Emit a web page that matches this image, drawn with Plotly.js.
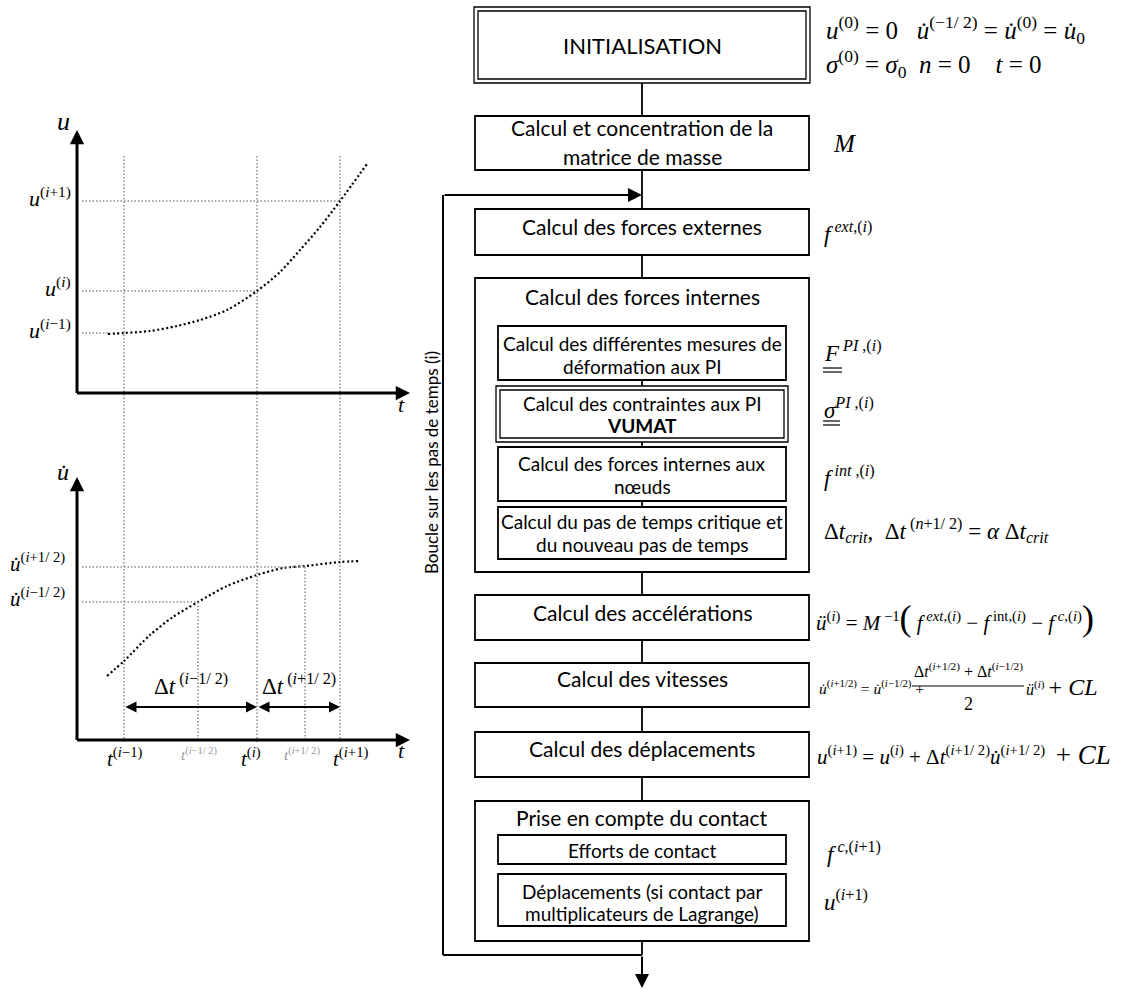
<!DOCTYPE html>
<html><head><meta charset="utf-8">
<script src="https://cdn.plot.ly/plotly-3.0.1.min.js"></script>
<style>html,body{margin:0;padding:0;background:#fff}</style>
</head><body><div id="chart" style="width:1121px;height:989px"></div>
<script>
// ================= DATA =================
// time marks (axis units of the two left graphs)
const tGrid = [47, 180, 263];            // t(i-1), t(i), t(i+1)
const tHalf = [121, 228];                // t(i-1/2), t(i+1/2)
// displacement graph
const curveUt = [31, 47, 73, 100, 123, 150, 180, 203, 223, 243, 263, 290];
const curveU  = [59, 60, 62, 67, 73, 83, 102, 121, 143, 166, 192, 229];
const uLevels = [60, 102, 192];          // u(i-1), u(i), u(i+1)
const uLevelT = [31, 180, 263];
// velocity graph
const curveVt = [30, 47, 73, 96, 121, 150, 180, 206, 228, 263, 282];
const curveV  = [64, 79, 105, 123, 138, 154, 165, 172, 174, 178, 179];
const vLevels = [138, 173];              // u̇(i-1/2), u̇(i+1/2)
// labels
const I = s => '<i>' + s + '</i>';
const ud = I('u\u0307');
const uLabels = [I('u') + '<sup>(' + I('i') + '−1)</sup>', I('u') + '<sup>(' + I('i') + ')</sup>', I('u') + '<sup>(' + I('i') + '+1)</sup>'];
const vLabels = [ud + '<sup>(' + I('i') + '−1/ 2)</sup>', ud + '<sup>(' + I('i') + '+1/ 2)</sup>'];
const tLabels = [I('t') + '<sup>(' + I('i') + '−1)</sup>', I('t') + '<sup>(' + I('i') + ')</sup>', I('t') + '<sup>(' + I('i') + '+1)</sup>'];
const tHalfLabels = [I('t') + '<sup>(' + I('i') + '−1/ 2)</sup>', I('t') + '<sup>(' + I('i') + '+1/ 2)</sup>'];
const dtLabels = ['Δ' + I('t') + '<sup> (' + I('i') + '−1/ 2)</sup>', 'Δ' + I('t') + '<sup> (' + I('i') + '+1/ 2)</sup>'];

// flowchart texts
const stepTexts = {
  init: ['INITIALISATION'],
  mass: ['Calcul et concentration de la', 'matrice de masse'],
  ext: ['Calcul des forces externes'],
  int: ['Calcul des forces internes'],
  def: ['Calcul des différentes mesures de', 'déformation aux PI'],
  vumat: ['Calcul des contraintes aux PI', '<b>VUMAT</b>'],
  nodes: ['Calcul des forces internes aux', 'nœuds'],
  dt: ['Calcul du pas de temps critique et', 'du nouveau pas de temps'],
  acc: ['Calcul des accélérations'],
  vit: ['Calcul des vitesses'],
  dep: ['Calcul des déplacements'],
  contact: ['Prise en compte du contact'],
  eff: ['Efforts de contact'],
  lag: ['Déplacements (si contact par', 'multiplicateurs de Lagrange)']
};
const loopLabel = 'Boucle sur les pas de temps (i)';
const NB = '\u00a0';
const formulas = {
  init1: I('u') + '<sup>(0)</sup> = 0' + NB + NB + NB + ud + '<sup>(−1/ 2)</sup> = ' + ud + '<sup>(0)</sup> = ' + ud + '<sub>0</sub>',
  init2: I('σ') + '<sup>(0)</sup> = ' + I('σ') + '<sub>0</sub>' + NB + NB + I('n') + ' = 0' + NB + NB + NB + NB + I('t') + ' = 0',
  mass: I('M'),
  ext: I('f') + '<sup>' + NB + I('ext') + ',(' + I('i') + ')</sup>',
  F: I('F') + '<sup>' + NB + I('PI') + ' ,(' + I('i') + ')</sup>',
  sig: I('σ') + '<sup>' + I('PI') + ' ,(' + I('i') + ')</sup>',
  int: I('f') + '<sup>' + NB + I('int') + ' ,(' + I('i') + ')</sup>',
  dt: 'Δ' + I('t') + '<sub>' + I('crit') + '</sub>,' + NB + NB + 'Δ' + I('t') + '<sup> (' + I('n') + '+1/ 2)</sup> = ' + I('α') + NB + 'Δ' + I('t') + '<sub>' + I('crit') + '</sub>',
  acc: I('ü') + '<sup>(' + I('i') + ')</sup> = ' + I('M') + '<sup> −1</sup><span style="font-size:36px">(</span>' + NB + I('f') + '<sup>' + NB + I('ext') + ',(' + I('i') + ')</sup> − ' + I('f') + '<sup>' + NB + 'int,(' + I('i') + ')</sup> − ' + I('f') + '<sup>' + NB + I('c') + ',(' + I('i') + ')</sup><span style="font-size:36px">)</span>',
  vitL: ud + '<sup>(' + I('i') + '+1/2)</sup> = ' + ud + '<sup>(' + I('i') + '−1/2)</sup> +',
  vitN: 'Δ' + I('t') + '<sup>(' + I('i') + '+1/2)</sup> + Δ' + I('t') + '<sup>(' + I('i') + '−1/2)</sup>',
  vitD: '2',
  vitR: I('ü') + '<sup>(' + I('i') + ')</sup> <span style="font-size:24px">+ ' + I('CL') + '</span>',
  dep: I('u') + '<sup>(' + I('i') + '+1)</sup> = ' + I('u') + '<sup>(' + I('i') + ')</sup> + Δ' + I('t') + '<sup>(' + I('i') + '+1/ 2)</sup>' + ud + '<sup>(' + I('i') + '+1/ 2)</sup>' + NB + NB + '<span style="font-size:27px">+ ' + I('CL') + '</span>',
  fc: I('f') + '<sup>' + NB + I('c') + ',(' + I('i') + '+1)</sup>',
  ulag: I('u') + '<sup>(' + I('i') + '+1)</sup>'
};

// ================= LAYOUT HELPERS =================
const W = 1121, H = 989;
const X = x => x / W, Y = y => 1 - y / H;
const SANS = 'Lato, "Open Sans", sans-serif';
const SERIF = '"Liberation Serif", "DejaVu Serif", serif';
const GREY = '#8a8a8a';

const shapes = [];
const annotations = [];
function rect(r, w) {
  shapes.push({type: 'rect', xref: 'paper', yref: 'paper', x0: X(r[0]), x1: X(r[2]), y0: Y(r[3]), y1: Y(r[1]),
    line: {color: '#000', width: w || 1.8}, fillcolor: 'rgba(0,0,0,0)'});
}
function seg(x0, y0, x1, y1, w) {
  shapes.push({type: 'line', xref: 'paper', yref: 'paper', x0: X(x0), x1: X(x1), y0: Y(y0), y1: Y(y1),
    line: {color: '#000', width: w || 1.8}});
}
function txt(x, y, text, size, opts) {
  annotations.push(Object.assign({xref: 'paper', yref: 'paper', x: X(x), y: Y(y), text: text, showarrow: false,
    xanchor: 'center', yanchor: 'middle', font: {family: SANS, size: size, color: '#000'}}, opts || {}));
}
function arrowPx(xh, yh, xt, yt, w, size) {
  annotations.push({xref: 'paper', yref: 'paper', x: X(xh), y: Y(yh), ax: xt - xh, ay: yt - yh,
    axref: 'pixel', ayref: 'pixel', text: '', showarrow: true, arrowhead: 2, arrowwidth: w, arrowsize: size,
    arrowcolor: '#000', standoff: 0});
}

// ================= FLOWCHART =================
const CX = 642;
const boxes = [
  {k: 'init', r: [475, 7, 809, 83], dbl: true, ty: [45], fs: 22},
  {k: 'mass', r: [475, 116, 809, 170], ty: [128, 156], fs: 21},
  {k: 'ext', r: [475, 209, 809, 255], ty: [227], fs: 21},
  {k: 'int', r: [475, 278, 809, 572], ty: [296], fs: 21},
  {k: 'def', r: [498, 326, 786, 380], ty: [343, 366], fs: 19},
  {k: 'vumat', r: [497, 386, 787, 442], dbl: true, ty: [403, 425], fs: 19},
  {k: 'nodes', r: [498, 447, 786, 501], ty: [463, 486], fs: 19},
  {k: 'dt', r: [498, 507, 786, 559], ty: [521, 544], fs: 19},
  {k: 'acc', r: [475, 595, 809, 640], ty: [612], fs: 21},
  {k: 'vit', r: [475, 663, 809, 707], ty: [678], fs: 21},
  {k: 'dep', r: [475, 732, 809, 777], ty: [748], fs: 21},
  {k: 'contact', r: [475, 801, 809, 941], ty: [817], fs: 21},
  {k: 'eff', r: [498, 835, 786, 864], ty: [850], fs: 19},
  {k: 'lag', r: [498, 874, 786, 926], ty: [891, 913], fs: 19}
];
boxes.forEach(b => {
  if (b.dbl) {
    rect([b.r[0] - 1, b.r[1], b.r[2] + 1, b.r[3]], 1.3);
    rect([b.r[0] + 3, b.r[1] + 4, b.r[2] - 3, b.r[3] - 4], 1.3);
  } else rect(b.r, 1.8);
  stepTexts[b.k].forEach((t, i) => txt(CX, b.ty[i], t, b.fs));
});
[[83, 116], [170, 209], [255, 278], [380, 386], [442, 447], [501, 507], [572, 595], [640, 663], [707, 732], [777, 801], [941, 955]]
  .forEach(c => seg(CX, c[0], CX, c[1], 1.8));
// loop
seg(CX, 955, 443, 955, 2);
seg(443, 955, 443, 195, 2);
arrowPx(CX, 195, 443, 195, 2, 1.4);
arrowPx(CX, 988, CX, 955, 2, 1.4);
txt(431, 463, loopLabel, 17, {textangle: -90});

// formulas (right column)
const fs = {family: SERIF, size: 22, color: '#000'};
function ftxt(x, y, text, size, anchor) {
  annotations.push({xref: 'paper', yref: 'paper', x: X(x), y: Y(y), text: text, showarrow: false,
    xanchor: anchor || 'left', yanchor: 'middle', font: Object.assign({}, fs, {size: size})});
}
ftxt(824, 30, formulas.init1, 25);
ftxt(824, 64, formulas.init2, 25);
ftxt(831, 143, formulas.mass, 25);
ftxt(822, 232, formulas.ext, 23);
ftxt(822, 352, formulas.F, 23);
ftxt(822, 408, formulas.sig, 23);
ftxt(822, 476, formulas.int, 23);
ftxt(822, 530, formulas.dt, 23);
ftxt(814, 618, formulas.acc, 21);
ftxt(817, 687, formulas.vitL, 15.5);
ftxt(968, 670, formulas.vitN, 16, 'center');
ftxt(968, 704, formulas.vitD, 18, 'center');
seg(912, 686, 1024, 686, 1);
ftxt(1024, 687, formulas.vitR, 16);
ftxt(815, 755, formulas.dep, 21);
ftxt(825, 852, formulas.fc, 23);
ftxt(822, 900, formulas.ulag, 23);
// double underlines
seg(823, 368, 842, 368, 1.2); seg(823, 372, 842, 372, 1.2);
seg(823, 421, 840, 421, 1.2); seg(823, 425, 840, 425, 1.2);

// ================= LEFT GRAPHS =================
const dotGrey = {color: GREY, width: 1.5, dash: '1.5px,2px'};
const dotBlack = {color: '#000', width: 2.2, dash: '2px,2.5px', shape: 'spline', smoothing: 0.8};
const traces = [];
traces.push({x: curveUt, y: curveU, xaxis: 'x', yaxis: 'y', mode: 'lines', line: dotBlack});
traces.push({x: curveVt, y: curveV, xaxis: 'x2', yaxis: 'y2', mode: 'lines', line: dotBlack});
uLevels.forEach((v, k) => traces.push({x: [5, uLevelT[k]], y: [v, v], xaxis: 'x', yaxis: 'y', mode: 'lines', line: dotGrey}));
vLevels.forEach((v, k) => {
  traces.push({x: [5, tHalf[k]], y: [v, v], xaxis: 'x2', yaxis: 'y2', mode: 'lines', line: dotGrey});
  traces.push({x: [tHalf[k], tHalf[k]], y: [0, v], xaxis: 'x2', yaxis: 'y2', mode: 'lines', line: dotGrey});
});
// long vertical time lines across both graphs
tGrid.forEach(t => shapes.push({type: 'line', xref: 'x', yref: 'paper', x0: t, x1: t, y0: Y(742), y1: Y(154),
  line: dotGrey, layer: 'below'}));

// axes arrows
function axArrow(xr, yr, x, y, ax, ay) {
  annotations.push({xref: xr, yref: yr, x: x, y: y, ax: ax, ay: ay, axref: xr, ayref: yr, text: '', showarrow: true,
    arrowhead: 2, arrowwidth: 3, arrowsize: 0.95, arrowcolor: '#000', standoff: 0});
}
const XMAX = 333, YMAX = 263;
axArrow('x', 'y', 0, YMAX, 0, -1.5);
axArrow('x', 'y', XMAX, 0, -1.5, 0);
axArrow('x2', 'y2', 0, YMAX, 0, -1.5);
axArrow('x2', 'y2', XMAX, 0, -1.5, 0);
// double arrows for time steps
[[0, 1], [1, 2]].forEach((p, k) => {
  annotations.push({xref: 'x2', yref: 'y2', x: tGrid[p[1]], y: 33, ax: tGrid[p[0]], ay: 33, axref: 'x2', ayref: 'y2',
    text: '', showarrow: true, arrowhead: 2, startarrowhead: 2, arrowside: 'end+start', arrowwidth: 2.2, arrowsize: 1,
    startarrowsize: 1, arrowcolor: '#000', standoff: 0, startstandoff: 0});
  annotations.push({xref: 'x2', yref: 'y2', x: (tGrid[p[0]] + tGrid[p[1]]) / 2, y: 56, text: dtLabels[k], showarrow: false,
    xanchor: 'center', yanchor: 'middle', font: {family: SERIF, size: 23, color: '#000'}});
});
// labels
const lab = (xr, yr, x, y, text, size, color, xa, ys, xs) => annotations.push({xref: xr, yref: yr, x: x, y: y, text: text,
  showarrow: false, xanchor: xa || 'center', yanchor: 'middle', yshift: ys || 0, xshift: xs || 0,
  font: {family: SERIF, size: size, color: color || '#000'}});
lab('paper', 'paper', X(63), Y(122), I('u'), 26);
lab('paper', 'paper', X(63), Y(472), ud, 24);
lab('paper', 'paper', X(401), Y(404), I('t'), 22);
lab('paper', 'paper', X(401), Y(750), I('t'), 22);
uLevels.forEach((v, k) => lab('paper', 'y', X(73), v, uLabels[k], 22, '#000', 'right', 4));
vLevels.forEach((v, k) => lab('paper', 'y2', X(67), v, vLabels[k], 21, '#000', 'right', 5));
const tShift = [0, -6, 10];
tGrid.forEach((t, k) => lab('x2', 'paper', t, Y(757), tLabels[k], 21, '#000', 'center', 0, tShift[k]));
tHalf.forEach((t, k) => lab('x2', 'paper', t, Y(754), tHalfLabels[k], 15, '#9a9a9a', 'center', 0, k ? -3 : 1));

const hidden = {visible: false, showgrid: false, zeroline: false, fixedrange: true};
const layout = {
  width: W, height: H, autosize: false, margin: {l: 0, r: 0, t: 0, b: 0, pad: 0},
  paper_bgcolor: '#fff', plot_bgcolor: 'rgba(0,0,0,0)', showlegend: false, hovermode: false,
  xaxis: Object.assign({}, hidden, {domain: [X(77), X(410)], range: [0, XMAX], anchor: 'y'}),
  yaxis: Object.assign({}, hidden, {domain: [Y(393), Y(130)], range: [0, YMAX], anchor: 'x'}),
  xaxis2: Object.assign({}, hidden, {domain: [X(77), X(410)], range: [0, XMAX], anchor: 'y2'}),
  yaxis2: Object.assign({}, hidden, {domain: [Y(740), Y(477)], range: [0, YMAX], anchor: 'x2'}),
  shapes: shapes, annotations: annotations
};
Plotly.newPlot('chart', traces, layout, {staticPlot: true, displayModeBar: false});
</script></body></html>
